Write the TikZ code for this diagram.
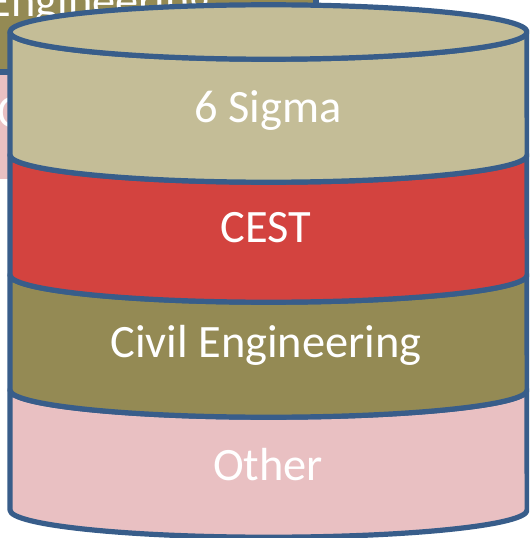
\documentclass[tikz,border=0pt]{standalone}
\usepackage{fontspec}
\setmainfont{Carlito}
\usetikzlibrary{positioning}

\definecolor{sigmatan}{RGB}{196,189,151}
\definecolor{cestred}{RGB}{211,67,63}
\definecolor{civilolive}{RGB}{148,138,84}
\definecolor{otherpink}{RGB}{233,192,194}
\definecolor{rimblue}{RGB}{56,93,138}

\tikzset{
    band/.style={draw=rimblue, line width=3.7pt, line join=round},
    lbl/.style={text=white, inner sep=0pt, font=\fontsize{33}{40}\selectfont},
    rx/.style={x radius=6.4625cm, y radius=0.68cm}
}

\begin{document}
\begin{tikzpicture}[x=0.025cm, y=-0.025cm]
        \clip (0,0) rectangle (529,538);
        % the stack behind, only a corner shows
        \fill[civilolive] (-20,-20) rectangle (316,72);
        \fill[otherpink] (-20,72) rectangle (40,179);
        \draw[rimblue, line width=4pt] (316,-20) -- (316,72) -- (-20,72);
        \node[lbl, anchor=base east] (civback) at (212,17) {Civil Engineering};
        \node[lbl, anchor=base west] (othback) at (-3,128) {Other};
        % bands, bottom first
        \coordinate (L0) at (10,32);
        \coordinate (L1) at (10,155);
        \coordinate (L2) at (10,275);
        \coordinate (L3) at (10,390);
        \coordinate (L4) at (10,510);
        \filldraw[band, fill=otherpink] (L3) -- (L4) arc[start angle=180, end angle=360, rx] -- (527,390) arc[start angle=0, end angle=-180, rx] -- cycle;
        \filldraw[band, fill=civilolive] (L2) -- (L3) arc[start angle=180, end angle=360, rx] -- (527,275) arc[start angle=0, end angle=-180, rx] -- cycle;
        \filldraw[band, fill=cestred] (L1) -- (L2) arc[start angle=180, end angle=360, rx] -- (527,155) arc[start angle=0, end angle=-180, rx] -- cycle;
        \filldraw[band, fill=sigmatan] (L0) -- (L1) arc[start angle=180, end angle=360, rx] -- (527,32) arc[start angle=0, end angle=-180, rx] -- cycle;
        \filldraw[band, fill=sigmatan] (268.5,32) ellipse[rx];
        % labels
        \node[lbl, anchor=base] (sigma) at (268,123) {6 Sigma};
        \node[lbl, anchor=base] (cest) at (266,242) {CEST};
        \node[lbl, anchor=base] (civil) at (266,357) {Civil Engineering};
        \node[lbl, anchor=base] (other) at (268,480) {Other};
    \end{tikzpicture}
\end{document}
